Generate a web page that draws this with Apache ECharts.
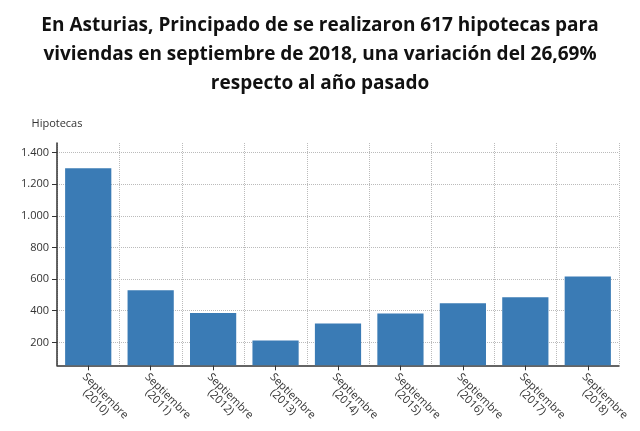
<!DOCTYPE html><html><head><meta charset="utf-8"><script src="https://cdn.jsdelivr.net/npm/echarts@6/dist/echarts.min.js"></script></head><body style="margin:0"><div id="c" style="width:640px;height:431px"></div><script>
const categories=["Septiembre\n    (2010)","Septiembre\n    (2011)","Septiembre\n    (2012)","Septiembre\n    (2013)","Septiembre\n    (2014)","Septiembre\n    (2015)","Septiembre\n    (2016)","Septiembre\n    (2017)","Septiembre\n    (2018)"];
const values=[1300,530,385,212,320,382,448,485,617];
const ticks=[200,400,600,800,1000,1200,1400];
const ch=echarts.init(document.getElementById('c'));
ch.setOption({
title:{text:"En Asturias, Principado de se realizaron 617 hipotecas para\nviviendas en septiembre de 2018, una variación del 26,69%\nrespecto al año pasado",left:'center',top:6,textStyle:{fontFamily:'Open Sans',fontWeight:'bold',fontSize:19,lineHeight:29,color:'#111'}},
grid:{left:57,right:21,top:143,bottom:56},
xAxis:{type:'category',data:categories,axisLine:{lineStyle:{color:'#333',width:1.5}},axisTick:{show:true,alignWithLabel:true,lineStyle:{color:'#333'}},splitLine:{show:true,lineStyle:{type:'dotted',color:'#bbb'}},axisLabel:{rotate:-45,fontFamily:'Open Sans',fontSize:11,color:'#333',margin:6,align:'left',verticalAlign:'top'}},
yAxis:{type:'value',min:55,max:1460,name:'Hipotecas',nameLocation:'end',nameGap:14,nameTextStyle:{fontFamily:'Open Sans',fontSize:11,color:'#333',align:'center'},
axisLine:{show:true,lineStyle:{color:'#333',width:1.5}},axisTick:{show:true,customValues:ticks,lineStyle:{color:'#333'}},
axisLabel:{customValues:ticks,fontFamily:'Open Sans',fontSize:11,color:'#333',formatter:v=>v.toLocaleString('de-DE')},
splitLine:{show:true,lineStyle:{type:'dotted',color:'#bbb'}}},
series:[{type:'bar',data:values,barWidth:'74%',itemStyle:{color:'#3a7bb5'}}]
});
</script></body></html>
